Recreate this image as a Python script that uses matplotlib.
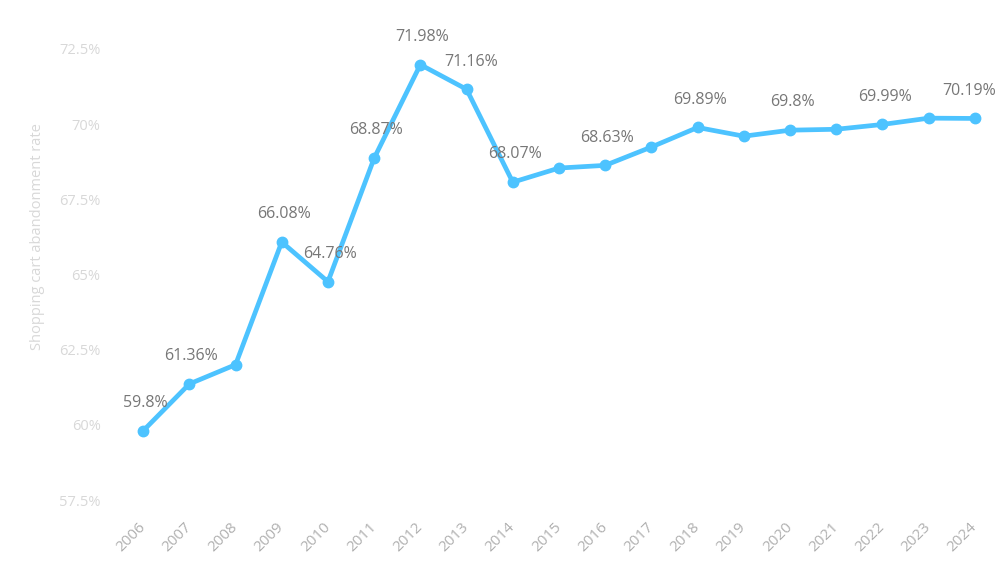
import matplotlib.pyplot as plt
from matplotlib.ticker import FuncFormatter

plt.rcParams['font.family'] = ['Open Sans', 'DejaVu Sans']

years = ['2006', '2007', '2008', '2009', '2010', '2011', '2012', '2013', '2014', '2015',
         '2016', '2017', '2018', '2019', '2020', '2021', '2022', '2023', '2024']
rate = [59.8, 61.36, 62.0, 66.08, 64.76, 68.87, 71.98, 71.16, 68.07, 68.54,
        68.63, 69.24, 69.89, 69.6, 69.8, 69.83, 69.99, 70.2, 70.19]
labelled = ['2006', '2007', '2009', '2010', '2011', '2012', '2013', '2014',
            '2016', '2018', '2020', '2022', '2024']
yticks = [57.5, 60, 62.5, 65, 67.5, 70, 72.5]

fig = plt.figure(figsize=(10, 5.75), dpi=100)
ax = fig.add_axes([0.12, 0.1304, 0.878, 0.7844])

x = list(range(len(years)))
ax.plot(x, rate, color='#4dc3ff', linewidth=3.4, marker='o', markersize=7.5,
        solid_capstyle='round', zorder=3)

# label offsets (points), nudged where the original shifts them
shift = {'2013': 3, '2024': -4}
for i, (yr, v) in enumerate(zip(years, rate)):
    if yr not in labelled:
        continue
    ax.annotate('{:g}%'.format(v), (i, v), xytext=(shift.get(yr, 1.5), 20),
                textcoords='offset points', ha='center', va='center',
                fontsize=11.5, color='#777777')

ax.set_xlim(-0.5, len(years) - 0.5)
ax.set_ylim(57.5, 72.5)
ax.set_xticks(x)
ax.set_xticklabels(years, rotation=45, ha='right', va='center', rotation_mode='anchor',
                   fontsize=11, color='#b0b0b0')
ax.set_yticks(yticks)
ax.yaxis.set_major_formatter(FuncFormatter(lambda v, p: '{:g}%'.format(v)))
ax.tick_params(axis='y', labelsize=10.5, labelcolor='#d8d8d8', length=0, pad=14)
ax.tick_params(axis='x', length=0, pad=18)
ax.set_ylabel('Shopping cart abandonment rate', fontsize=10.5, color='#d8d8d8')
ax.yaxis.set_label_coords(-0.085, 0.585)

for s in ax.spines.values():
    s.set_visible(False)

plt.savefig('out.png')
